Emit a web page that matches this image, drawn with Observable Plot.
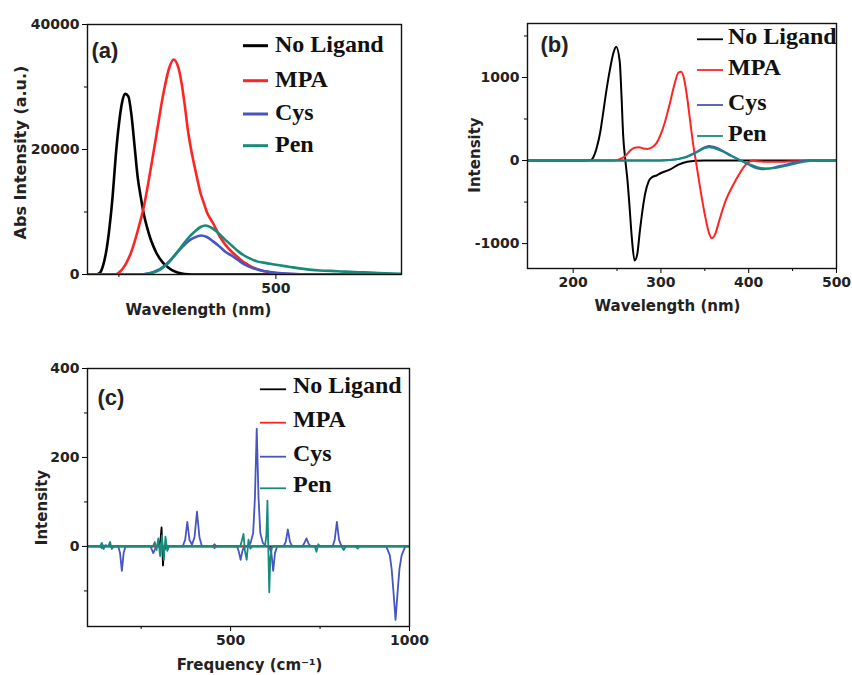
<!DOCTYPE html>
<html><head><meta charset="utf-8">
<script src="https://cdn.jsdelivr.net/npm/d3@7"></script>
<script src="https://cdn.jsdelivr.net/npm/@observablehq/plot@0.6"></script>
<style>
html,body{margin:0;padding:0;background:#fff;}
#wrap{position:relative;width:852px;height:675px;overflow:hidden;background:#fff;}
#wrap > svg{position:absolute;}
</style></head><body><div id="wrap"></div>
<script>
// ---------- shared ----------
const seriesNames = ["No Ligand", "MPA", "Cys", "Pen"];
const seriesColors = ["#000000", "#ff2424", "#4655c2", "#188a7a"];

// ---------- panel (a): absorption ----------
const aNoLigandWl  = [200,210,215,220,225,230,235,240,245,250,255,260,265,270,275,280,285,290,295,300,305,310,320,330,340,350,360,370,700];
const aNoLigandInt = [0,0,50,300,1500,3800,7500,12500,19000,24000,27500,28900,28500,25500,20500,15500,12300,9500,7500,5800,4500,3400,1900,1000,450,150,30,0,0];
const aMPAWl  = [200,245,250,260,270,280,290,300,310,320,330,337,345,350,355,360,365,370,375,380,385,390,400,410,420,430,440,450,460,480,500,520,550,700];
const aMPAInt = [0,0,300,1500,3700,7000,11000,16500,22500,28500,33000,34400,33000,30500,27000,23000,20000,17500,15200,13000,11500,10000,8200,6200,4700,3600,2700,1900,1300,550,200,60,0,0];
const aCysWl  = [200,280,300,310,320,330,340,350,360,370,381,390,400,410,420,430,440,450,464,480,491,510,540,580,700];
const aCysInt = [0,0,250,600,1200,2100,3200,4300,5300,5900,6240,6000,5300,4500,3600,3000,2300,1600,1000,550,400,200,50,0,0];
const aPenWl  = [200,280,300,310,320,330,340,350,360,370,380,388,400,410,420,430,440,450,460,470,480,491,500,520,544,570,598,625,651,675,700];
const aPenInt = [0,0,200,500,1100,2000,3200,4500,5800,6800,7600,7840,7300,6500,5500,4600,3700,3000,2500,2100,1900,1710,1550,1250,900,650,530,380,300,200,120];
const aXDomain = [200, 700], aYDomain = [0, 40000];
const aXTicks = [500], aXMinor = [250];
const aYTicks = [0, 20000, 40000], aYMinor = [10000, 30000];

// ---------- panel (b): CD ----------
const bNoLigandWl  = [148,215,220,223,227,231,234,238,242,246,249,253,255,257,259.5,262,264,267,270,273,276,279,282,286,290,295,300,310,320,330,340,350,500];
const bNoLigandInt = [0,0,5,40,160,350,560,850,1100,1300,1370,1200,800,300,0,-250,-520,-950,-1205,-1130,-850,-600,-400,-250,-200,-180,-150,-110,-50,-15,-3,0,0];
const bMPAWl  = [148,245,250,255,260,265,270,275,280,285,290,295,300,305,310,315,320,323,326,330,333,336,340,345,350,355,358,362,366,370,375,380,385,390,395,400,405,410,420,440,460,480,500];
const bMPAInt = [0,0,5,25,60,120,155,160,145,140,160,210,320,480,680,900,1060,1070,1000,750,500,250,-20,-350,-650,-880,-935,-880,-740,-600,-450,-340,-240,-150,-70,-20,0,-10,-15,-15,-5,0,0];
const bCysWl  = [148,300,310,320,330,340,350,355,360,370,380,390,400,410,415,420,430,440,450,460,470,500];
const bCysInt = [0,0,5,20,50,100,160,175,165,120,60,5,-50,-95,-105,-100,-80,-55,-30,-10,0,0];
const bPenWl  = [148,300,310,320,330,340,350,355,360,370,380,390,400,410,420,425,430,440,450,460,470,480,500];
const bPenInt = [0,0,5,18,45,95,150,160,150,110,55,5,-40,-80,-95,-95,-90,-70,-45,-20,-5,0,0];
const bXDomain = [148, 500], bYDomain = [-1300, 1650];
const bXTicks = [200, 300, 400, 500], bXMinor = [250, 350, 450];
const bYTicks = [-1000, 0, 1000], bYMinor = [-500, 500, 1500];

// ---------- panel (c): Raman ----------
const cNoLigandFreq = [100,300,304,307,309,311,314,318,1000];
const cNoLigandInt  = [0,0,15,43,0,-43,-10,0,0];
const cMPAFreq = [100,605,612,620,1000];
const cMPAInt  = [0,0,-5,0,0];
const cCysFreq = [100,135,140,145,150,186,191,196,201,206,276,284,292,366,373,379,385,392,399,406,413,420,450,455,460,518,523,528,533,538,548,556,563,568,573,578,583,590,600,608,614,619,624,630,648,654,660,666,672,700,705,712,718,724,785,791,797,803,810,935,945,950,955,961,967,972,978,988,1000];
const cCysInt  = [0,0,-4,2,0,0,-15,-55,-15,0,0,-15,0,0,15,55,15,4,20,78,20,0,0,5,0,0,-12,-30,-10,0,0,8,30,110,265,110,30,8,0,0,-15,-55,-15,0,0,10,38,10,0,0,6,18,6,0,0,15,55,15,0,0,-20,-50,-100,-165,-100,-50,-20,0,0];
const cPenFreq = [100,135,140,145,150,158,163,168,173,250,283,288,293,298,303,308,313,318,323,328,450,455,460,527,532,536,540,545,550,555,560,596,600,603,605,608,611,616,735,740,745,750,810,816,822,850,855,860,1000];
const cPenInt  = [0,0,8,-6,3,0,10,-6,0,0,0,10,-8,18,-22,25,-30,22,-10,0,0,-4,0,0,15,28,-10,-30,15,-5,0,0,25,103,10,-103,-25,0,0,-12,5,0,0,-8,0,0,-5,0,0];
const cXDomain = [100, 1000], cYDomain = [-180, 400];
const cXTicks = [500, 1000], cXMinor = [250, 750];
const cYTicks = [0, 200, 400], cYMinor = [-100, 100, 300];

// ---------- helpers ----------
const toRows = (xs, ys, name) => xs.map((x, i) => ({x, y: ys[i], name}));
const fmt = d => String(d);

function axisMarks(xt, xm, yt, ym) {
  return [
    Plot.axisX({ticks: xt, tickSize: 5, tickPadding: 4, tickFormat: fmt, label: null, fontSize: 14, fontWeight: "bold", fill: "#222"}),
    Plot.axisX({ticks: xm, tickSize: 3, tickFormat: () => "", label: null}),
    Plot.axisY({ticks: yt, tickSize: 5, tickPadding: 3, tickFormat: fmt, label: null, fontSize: 14, fontWeight: "bold", fill: "#222"}),
    Plot.axisY({ticks: ym, tickSize: 3, tickFormat: () => "", label: null})
  ];
}

function addLegend(svg, cfg) {
  const g = d3.select(svg).append("g").attr("class", "legend").attr("text-anchor", "start");
  seriesNames.forEach((name, i) => {
    const y = cfg.ys[i];
    g.append("line").attr("x1", cfg.x0).attr("x2", cfg.x1).attr("y1", y).attr("y2", y)
      .attr("stroke", seriesColors[i]).attr("stroke-width", cfg.lw);
    g.append("text").attr("x", cfg.tx).attr("y", y + cfg.base)
      .attr("text-anchor", "start")
      .attr("font-family", "'Liberation Serif', 'Times New Roman', serif")
      .attr("font-weight", "bold").attr("font-size", cfg.fs).attr("fill", "#111")
      .text(name);
  });
}

function panel(opts) {
  const data = opts.series.flatMap(([xs, ys], i) => toRows(xs, ys, seriesNames[i]));
  const svg = Plot.plot({
    width: opts.width, height: opts.height,
    marginLeft: opts.ml, marginRight: opts.mr, marginTop: opts.mt, marginBottom: opts.mb,
    style: {fontFamily: "'DejaVu Sans', sans-serif", background: "transparent", overflow: "visible"},
    x: {domain: opts.xd},
    y: {domain: opts.yd},
    color: {domain: seriesNames, range: seriesColors},
    marks: [
      ...axisMarks(opts.xt, opts.xm, opts.yt, opts.ym),
      Plot.line(data, {x: "x", y: "y", z: "name", stroke: "name", strokeWidth: opts.sw, curve: opts.curve, clip: true}),
      Plot.frame({stroke: "#111", strokeWidth: 1.4}),
      Plot.text([opts.tag], {frameAnchor: "top-left", lineAnchor: "middle", text: d => d, dx: opts.tagDx, dy: opts.tagDy, textAnchor: "start",
        fontFamily: "'Liberation Sans', Arial, sans-serif", fontWeight: "bold", fontSize: 22, fill: "#222"}),
      Plot.text([opts.xlabel], {frameAnchor: "bottom-left", lineAnchor: "middle", text: d => d, dx: opts.xlDx, dy: opts.xlDy, textAnchor: "middle",
        fontWeight: "bold", fontSize: 15, fill: "#222"}),
      Plot.text([opts.ylabel], {frameAnchor: "left", lineAnchor: "middle", text: d => d, rotate: -90, dx: opts.ylDx, dy: opts.ylDy, textAnchor: "middle",
        fontWeight: "bold", fontSize: opts.ylFs, fill: "#222"})
    ]
  });
  svg.style.left = opts.left + "px";
  svg.style.top = opts.top + "px";
  addLegend(svg, opts.legend);
  document.getElementById("wrap").appendChild(svg);
}

panel({
  left: 0, top: 0, width: 430, height: 330, ml: 87, mr: 29, mt: 24, mb: 56,
  xd: aXDomain, yd: aYDomain, xt: aXTicks, xm: aXMinor, yt: aYTicks, ym: aYMinor,
  series: [[aNoLigandWl, aNoLigandInt], [aMPAWl, aMPAInt], [aCysWl, aCysInt], [aPenWl, aPenInt]],
  sw: 2.6, curve: "monotone-x",
  tag: "(a)", tagDx: 4, tagDy: 26,
  xlabel: "Wavelength (nm)", xlDx: 111, xlDy: 36,
  ylabel: "Abs Intensity (a.u.)", ylDx: -67, ylDy: 3, ylFs: 16,
  legend: {x0: 243, x1: 268, tx: 275, ys: [45.7, 80.7, 114, 145.7], base: 6, lw: 3, fs: 24}
});

panel({
  left: 430, top: 0, width: 422, height: 330, ml: 97, mr: 16, mt: 23, mb: 62,
  xd: bXDomain, yd: bYDomain, xt: bXTicks, xm: bXMinor, yt: bYTicks, ym: bYMinor,
  series: [[bNoLigandWl, bNoLigandInt], [bMPAWl, bMPAInt], [bCysWl, bCysInt], [bPenWl, bPenInt]],
  sw: 2, curve: "monotone-x",
  tag: "(b)", tagDx: 13, tagDy: 21,
  xlabel: "Wavelength (nm)", xlDx: 140, xlDy: 38,
  ylabel: "Intensity", ylDx: -52, ylDy: 9, ylFs: 15,
  legend: {x0: 267, x1: 293, tx: 298, ys: [39.3, 70, 105, 136], base: 5, lw: 1.8, fs: 24}
});

panel({
  left: 0, top: 340, width: 430, height: 335, ml: 87, mr: 21, mt: 28, mb: 49,
  xd: cXDomain, yd: cYDomain, xt: cXTicks, xm: cXMinor, yt: cYTicks, ym: cYMinor,
  series: [[cNoLigandFreq, cNoLigandInt], [cMPAFreq, cMPAInt], [cCysFreq, cCysInt], [cPenFreq, cPenInt]],
  sw: 1.8, curve: "linear",
  tag: "(c)", tagDx: 10, tagDy: 29,
  xlabel: "Frequency (cm\u207B\u00B9)", xlDx: 162, xlDy: 39,
  ylabel: "Intensity", ylDx: -45, ylDy: 10, ylFs: 15,
  legend: {x0: 260, x1: 286, tx: 293, ys: [49.3, 82.7, 116.7, 148.3], base: 4, lw: 1.8, fs: 24}
});
</script></body></html>
